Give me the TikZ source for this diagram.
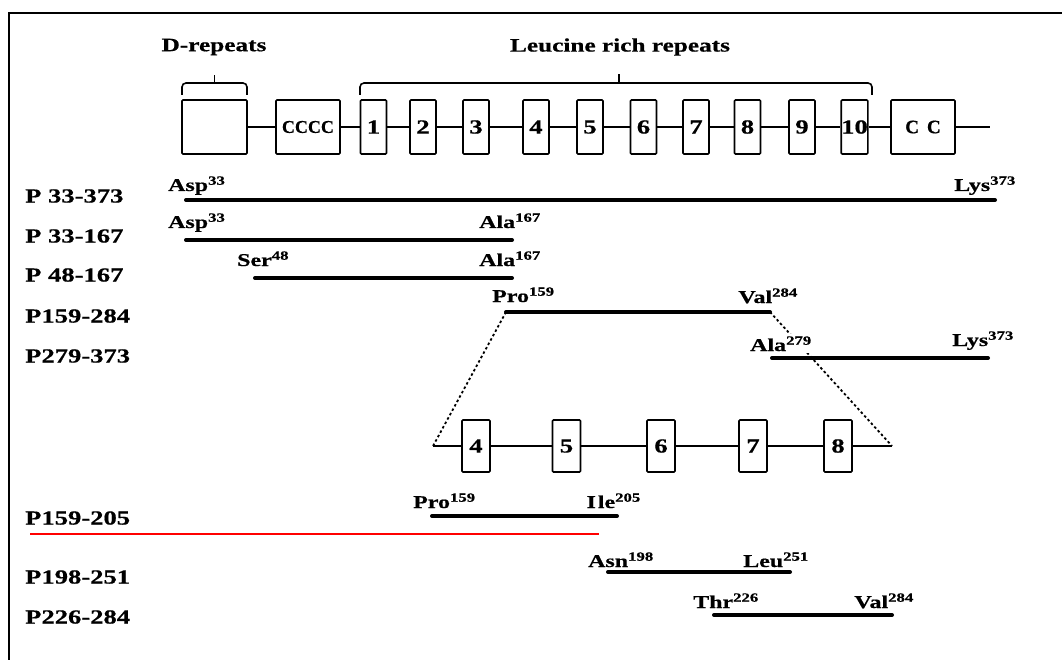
\documentclass[tikz,border=0pt]{standalone}
\usepackage{fontspec}
\newfontfamily\wide{Liberation Serif}[FakeStretch=1.33,FakeBold=0.6]
\newfontfamily\plainf{Liberation Serif}[FakeBold=0.6]
\begin{document}
\begin{tikzpicture}[x=1pt,y=-1pt,
  box/.style={draw, line width=1.6pt, minimum width=26pt, minimum height=54pt, inner sep=0pt, rounded corners=1pt, font=\wide\bfseries\fontsize{20}{24}\selectfont},
  zbox/.style={box, minimum width=28pt, minimum height=52pt},
  conn/.style={line width=1.6pt},
  frag/.style={line width=4pt, line cap=round},
  dots/.style={line width=1.8pt, dash pattern=on 2.5pt off 2.5pt},
  res/.style={inner sep=0pt, font=\wide\bfseries\fontsize{18}{22}\selectfont},
  rowlab/.style={inner sep=0pt, anchor=west, font=\wide\bfseries\fontsize{20}{24}\selectfont},
  title/.style={inner sep=0pt, font=\wide\bfseries\fontsize{19}{23}\selectfont},
  brk/.style={line width=1.6pt, rounded corners=4pt}]
\useasboundingbox (0,0) rectangle (1062,660);
% frame
\draw[line width=2.5pt] (9,660) -- (9,13) -- (1062,13);

% titles and brackets
\node[title] (tD) at (214,47) {D-repeats};
\node[title] (tL) at (620,47) {Leucine rich repeats};
\draw[brk] (182,95) -- (182,83) -- (247,83) -- (247,95);
\draw[brk] (214.5,83) -- (214.5,75);
\draw[brk] (360,95) -- (360,83) -- (872,83) -- (872,95);
\draw[brk] (619,83) -- (619,74);

% domain row
\node[box, minimum width=65pt] (D) at (214.5,127) {};
\node[box, minimum width=64pt, font=\plainf\bfseries\fontsize{18}{22}\selectfont] (CC4) at (308,127) {CCCC};
\foreach \i/\x in {1/373.5,2/423,3/476,4/536,5/590,6/643.5,7/696,8/747.5,9/802,10/854.5}
  \node[box] (b\i) at (\x,127) {\i};
\node[box, minimum width=64pt, font=\plainf\bfseries\fontsize{19}{22}\selectfont] (CC2) at (923,127) {C\hspace{8pt}C};
\coordinate (tend) at (990,127);
\draw[conn] (D) -- (CC4);
\draw[conn] (CC4) -- (b1);
\foreach \i/\j in {1/2,2/3,3/4,4/5,5/6,6/7,7/8,8/9,9/10}
  \draw[conn] (b\i) -- (b\j);
\draw[conn] (b10) -- (CC2);
\draw[conn] (CC2) -- (tend);

% row labels
\node[rowlab] (L1) at (25,196) {P 33-373};
\node[rowlab] (L2) at (25,236) {P 33-167};
\node[rowlab] (L3) at (25,275) {P 48-167};
\node[rowlab] (L4) at (25,316) {P159-284};
\node[rowlab] (L5) at (25,356) {P279-373};
\node[rowlab] (L6) at (25,518) {P159-205};
\node[rowlab] (L7) at (25,577) {P198-251};
\node[rowlab] (L8) at (25,617) {P226-284};

% fragments
\coordinate (f1s) at (186,200); \coordinate (f1e) at (995,200);
\coordinate (f2s) at (186,240); \coordinate (f2e) at (512,240);
\coordinate (f3s) at (255,278); \coordinate (f3e) at (512,278);
\coordinate (f4s) at (506,312); \coordinate (f4e) at (770,312);
\coordinate (f5s) at (772,358); \coordinate (f5e) at (988,358);
\coordinate (f6s) at (432,516); \coordinate (f6e) at (617,516);
\coordinate (f7s) at (608,572); \coordinate (f7e) at (790,572);
\coordinate (f8s) at (714,615); \coordinate (f8e) at (892,615);

% zoomed region
\coordinate (zl) at (433,446); \coordinate (zr) at (892,446);
\foreach \i/\x in {4/476,5/566.5,6/661,7/753,8/838}
  \node[zbox] (z\i) at (\x,446) {\i};
\draw[conn] (zl) -- (z4);
\foreach \i/\j in {4/5,5/6,6/7,7/8} \draw[conn] (z\i) -- (z\j);
\draw[conn] (z8) -- (zr);
\draw[dots] (f4s) -- (zl);
\draw[dots] (f4e) -- (zr);

\foreach \k in {1,...,8} \draw[frag] (f\k s) -- (f\k e);

% residue labels
\node[res, anchor=base west] (r1a) at (168,191) {Asp\textsuperscript{33}};
\node[res, anchor=base east] (r1b) at (1016,191) {Lys\textsuperscript{373}};
\node[res, anchor=base west] (r2a) at (168,228) {Asp\textsuperscript{33}};
\node[res, anchor=base east] (r2b) at (541,228) {Ala\textsuperscript{167}};
\node[res, anchor=base west] (r3a) at (237,266) {Ser\textsuperscript{48}};
\node[res, anchor=base east] (r3b) at (541,266) {Ala\textsuperscript{167}};
\node[res, anchor=base west] (r4a) at (492,302) {Pro\textsuperscript{159}};
\node[res, anchor=base east] (r4b) at (798,303) {Val\textsuperscript{284}};
\node[res, anchor=base west, fill=white, inner ysep=2pt] (r5a) at (750,351) {Ala\textsuperscript{279}};
\node[res, anchor=base east] (r5b) at (1014,346) {Lys\textsuperscript{373}};
\node[res, anchor=base west] (r6a) at (413,508) {Pro\textsuperscript{159}};
\node[res, anchor=base east] (r6b) at (641,508) {I\hspace{2pt}le\textsuperscript{205}};
\node[res, anchor=base west] (r7a) at (588,567) {Asn\textsuperscript{198}};
\node[res, anchor=base east] (r7b) at (809,567) {Leu\textsuperscript{251}};
\node[res, anchor=base west] (r8a) at (693,608) {Thr\textsuperscript{226}};
\node[res, anchor=base east] (r8b) at (914,608) {Val\textsuperscript{284}};

% red line
\coordinate (red1) at (30,534); \coordinate (red2) at (599,534);
\draw[red, line width=2pt] (red1) -- (red2);
\end{tikzpicture}
\end{document}
